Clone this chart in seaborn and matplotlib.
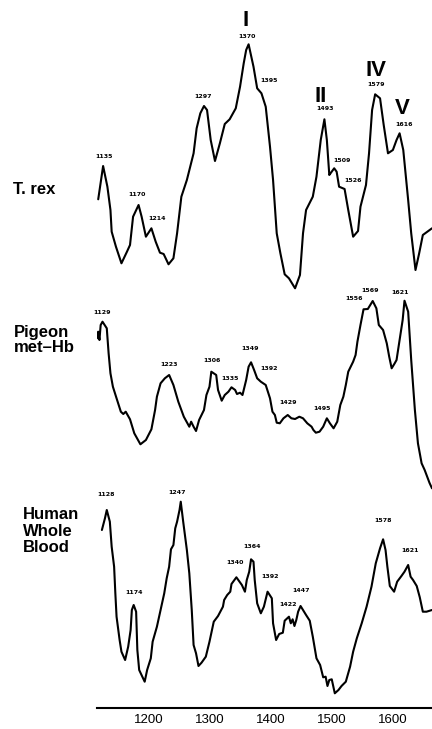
import matplotlib
matplotlib.use('Agg')
import matplotlib.pyplot as plt
import seaborn as sns
import numpy as np

sns.set_style("white")
plt.rcParams['font.family'] = ['Liberation Sans', 'DejaVu Sans']
plt.rcParams['text.color'] = 'black'
plt.rcParams['xtick.color'] = 'black'
plt.rcParams['axes.edgecolor'] = 'black'

# T. rex spectrum (wavenumber, relative intensity)
trex_wn = [1118, 1126, 1133, 1138, 1140, 1147, 1156, 1165, 1170, 1175, 1184, 1189, 1196, 1205,
           1212, 1219, 1225, 1233, 1241, 1247, 1254, 1263, 1274, 1279, 1285, 1291, 1296, 1302,
           1309, 1317, 1325, 1333, 1343, 1350, 1356, 1360, 1364, 1372, 1378, 1385, 1392, 1399,
           1404, 1410, 1416, 1423, 1430, 1440, 1448, 1453, 1458, 1469, 1475, 1482, 1488, 1492,
           1496, 1498, 1504, 1508, 1512, 1521, 1527, 1535, 1543, 1547, 1556, 1561, 1566, 1571,
           1579, 1585, 1592, 1600, 1606, 1611, 1617, 1625, 1630, 1637, 1643, 1649, 1664]
trex_int = [100.7, 134, 113.3, 90, 68.3, 53.3, 36.7, 48.3, 55, 83.3, 95, 83.3, 63.3, 71.7,
            58.3, 47.3, 46, 35.7, 41.7, 66.7, 103.3, 120, 146.7, 171.7, 186.7, 194, 190, 160,
            139, 156.7, 176, 180.7, 191.7, 213.3, 236.7, 250, 255.7, 233.3, 211.7, 206.7, 193.3, 153.3,
            120, 66.7, 46.7, 25.7, 21.7, 11.7, 25, 66.7, 90, 103.3, 123.3, 160, 180.7, 160,
            125, 126.7, 131.7, 128.3, 113.3, 111, 90, 63.3, 69, 93.3, 115, 146.7, 190, 205.7,
            201.7, 175, 146.7, 150, 160, 166.7, 150, 100, 66.7, 30, 46.7, 65, 71.7]

# Pigeon met-Hb spectrum
pigeon_wn = [1113, 1116, 1118, 1120, 1122, 1125, 1132, 1135, 1138, 1142, 1148, 1155, 1159, 1163,
             1170, 1177, 1187, 1196, 1205, 1211, 1214, 1220, 1227, 1234, 1241, 1249, 1258, 1267,
             1270, 1274, 1278, 1283, 1291, 1295, 1300, 1303, 1311, 1314, 1320, 1325, 1331, 1336,
             1342, 1345, 1350, 1354, 1360, 1364, 1368, 1373, 1378, 1384, 1392, 1399, 1403, 1407,
             1410, 1415, 1421, 1428, 1434, 1440, 1447, 1453, 1460, 1467, 1470, 1474, 1480, 1486,
             1492, 1497, 1503, 1509, 1514, 1519, 1523, 1527, 1535, 1539, 1542, 1547, 1552, 1559,
             1567, 1573, 1577, 1584, 1590, 1594, 1598, 1603, 1606, 1611, 1616, 1619, 1625, 1630,
             1636, 1641, 1647, 1652, 1660, 1664]
pigeon_int = [165, 151.7, 158.3, 150, 165, 168.3, 161.7, 136.7, 116.7, 103.3, 91.7, 78.3, 76, 78.3,
              70.7, 56.7, 45.7, 50, 60.7, 80, 93.3, 106.7, 111.7, 115, 105, 88.3, 73.3, 63.3,
              68.3, 63.3, 59, 70, 80, 95, 103.3, 118.3, 115, 100, 89.3, 95, 98.3, 102.7,
              100, 96, 97.3, 95, 110, 123.3, 127.7, 120, 111.7, 108.3, 105, 91.7, 78.3, 75,
              67.3, 66.7, 71.7, 75, 71.7, 71, 73.3, 71.7, 66.7, 63.3, 60, 57.3, 58.3, 63.3,
              71.7, 66.7, 61.7, 68.3, 85, 93.3, 105, 118.3, 128.3, 135, 148.3, 165, 180.7, 181,
              189, 181.7, 165, 160, 146.7, 133.3, 121.7, 126.7, 130, 150, 170, 189.3, 178.3, 130,
              80, 46.7, 26.7, 20, 7, 1.7]

# Human whole blood spectrum
human_wn = [1124, 1129, 1132, 1137, 1140, 1144, 1146, 1148, 1153, 1156, 1162, 1167, 1171, 1173,
            1176, 1180, 1182, 1185, 1194, 1198, 1204, 1207, 1214, 1220, 1226, 1230, 1234, 1237,
            1241, 1244, 1247, 1251, 1253, 1257, 1263, 1267, 1271, 1274, 1278, 1282, 1287, 1294,
            1300, 1307, 1314, 1322, 1324, 1329, 1334, 1336, 1344, 1353, 1358, 1361, 1365, 1368,
            1372, 1374, 1378, 1384, 1389, 1395, 1402, 1404, 1409, 1414, 1420, 1423, 1430, 1433,
            1436, 1439, 1442, 1445, 1449, 1453, 1458, 1464, 1469, 1475, 1481, 1486, 1490, 1493,
            1496, 1500, 1505, 1511, 1516, 1523, 1530, 1535, 1541, 1549, 1557, 1565, 1572, 1579,
            1584, 1588, 1591, 1595, 1602, 1607, 1614, 1619, 1625, 1629, 1633, 1639, 1644, 1649,
            1655, 1664]
human_int = [178, 189.7, 198, 186.3, 161.3, 141.3, 114.7, 91.3, 68, 56.3, 48, 61.3, 78, 98,
             103, 96.3, 58, 38, 26.3, 38, 49.7, 66.3, 81.3, 98, 114.7, 129.7, 141.3, 158.7,
             163, 179.7, 186.3, 198, 206.3, 186.3, 158, 134.7, 98, 63, 54.7, 42, 45.3, 51.3,
             66.3, 86.3, 92, 101.3, 108, 113, 116.3, 124, 130.7, 123, 116.3, 128, 136.3, 148.7,
             146.3, 128, 104.7, 94.7, 101.3, 116.3, 109.7, 84.7, 68, 74, 75.3, 87.3, 91.3, 84.7,
             88.7, 82, 88, 96.3, 102, 98, 93, 87.3, 71.3, 49.7, 43, 30.7, 31.3, 22,
             28, 28.7, 14.7, 18, 22, 26.3, 41.3, 56.3, 69.7, 84.7, 101.3, 121.3, 144.7, 159.7,
             168.7, 158, 141.3, 122, 116.3, 126.3, 132, 136.3, 143, 131.3, 128, 122, 110.7, 96.3,
             96.3, 98]

# peak labels
trex_peaks = ['1135', '1170', '1214', '1297', '1370', '1395', '1493', '1509', '1526', '1579', '1616']
pigeon_peaks = ['1129', '1223', '1306', '1335', '1349', '1392', '1429', '1495', '1556', '1569', '1621']
human_peaks = ['1128', '1247', '1174', '1340', '1364', '1392', '1422', '1447', '1578', '1621']
bands = ['I', 'II', 'IV', 'V']
tick_values = [1200, 1300, 1400, 1500, 1600]

# layout: vertical offsets of the stacked spectra and label spots
offsets = {'trex': 408, 'pigeon': 218, 'human': 0}
trex_pos = [(1128, 552), (1181, 514), (1214, 490), (1289, 611), (1362, 672), (1398, 627),
            (1489, 599), (1516, 548), (1535, 527), (1573, 624), (1618, 583)]
pigeon_pos = [(1124, 395), (1234, 343), (1304, 347), (1334, 330), (1367, 359), (1397, 339),
              (1428, 305), (1484, 299), (1537, 409), (1562, 418), (1612, 415)]
human_pos = [(1131, 213), (1247, 216), (1177, 116), (1342, 145), (1369, 161), (1399, 131),
             (1429, 104), (1450, 117), (1584, 187), (1628, 158)]
band_pos = [(1359, 687), (1482, 611), (1573, 637), (1615, 599)]

fig = plt.figure(figsize=(4.32, 7.29), dpi=100)
ax = fig.add_axes([97 / 432, 21 / 729, 335 / 432, 708 / 729])

for wn, inten, key in [(trex_wn, trex_int, 'trex'),
                       (pigeon_wn, pigeon_int, 'pigeon'),
                       (human_wn, human_int, 'human')]:
    sns.lineplot(x=wn, y=np.array(inten) + offsets[key], ax=ax, color='black',
                 linewidth=1.5, sort=False, estimator=None)

for labels, pos in [(trex_peaks, trex_pos), (pigeon_peaks, pigeon_pos), (human_peaks, human_pos)]:
    for lab, (x, y) in zip(labels, pos):
        ax.text(x, y, lab, ha='center', va='center', fontsize=4.5, fontweight='bold',
                family=['DejaVu Sans'])

for lab, (x, y) in zip(bands, band_pos):
    ax.text(x, y, lab, ha='center', va='center', fontsize=16, fontweight='bold')

ax.set_xlim(1116, 1664)
ax.set_ylim(0, 708)
ax.set_yticks([])
ax.set_xticks(tick_values)
ax.set_xticklabels([str(t) for t in tick_values], fontsize=9.5)
ax.tick_params(axis='x', direction='inout', length=6, width=1, pad=1, colors='black')
for side in ['top', 'right', 'left']:
    ax.spines[side].set_visible(False)
ax.spines['bottom'].set_linewidth(1.5)
ax.spines['bottom'].set_color('black')

# sample names on the left
fig.text(13 / 432, 1 - 190 / 729, 'T. rex', ha='left', va='center', fontsize=12, fontweight='bold')
fig.text(14 / 432, 1 - 340 / 729, 'Pigeon\nmet–Hb', ha='left', va='center', fontsize=12,
         fontweight='bold', linespacing=0.95)
fig.text(23 / 432, 1 - 531 / 729, 'Human\nWhole\nBlood', ha='left', va='center', fontsize=12,
         fontweight='bold', linespacing=1.1)

plt.savefig('out.png', dpi=100)
